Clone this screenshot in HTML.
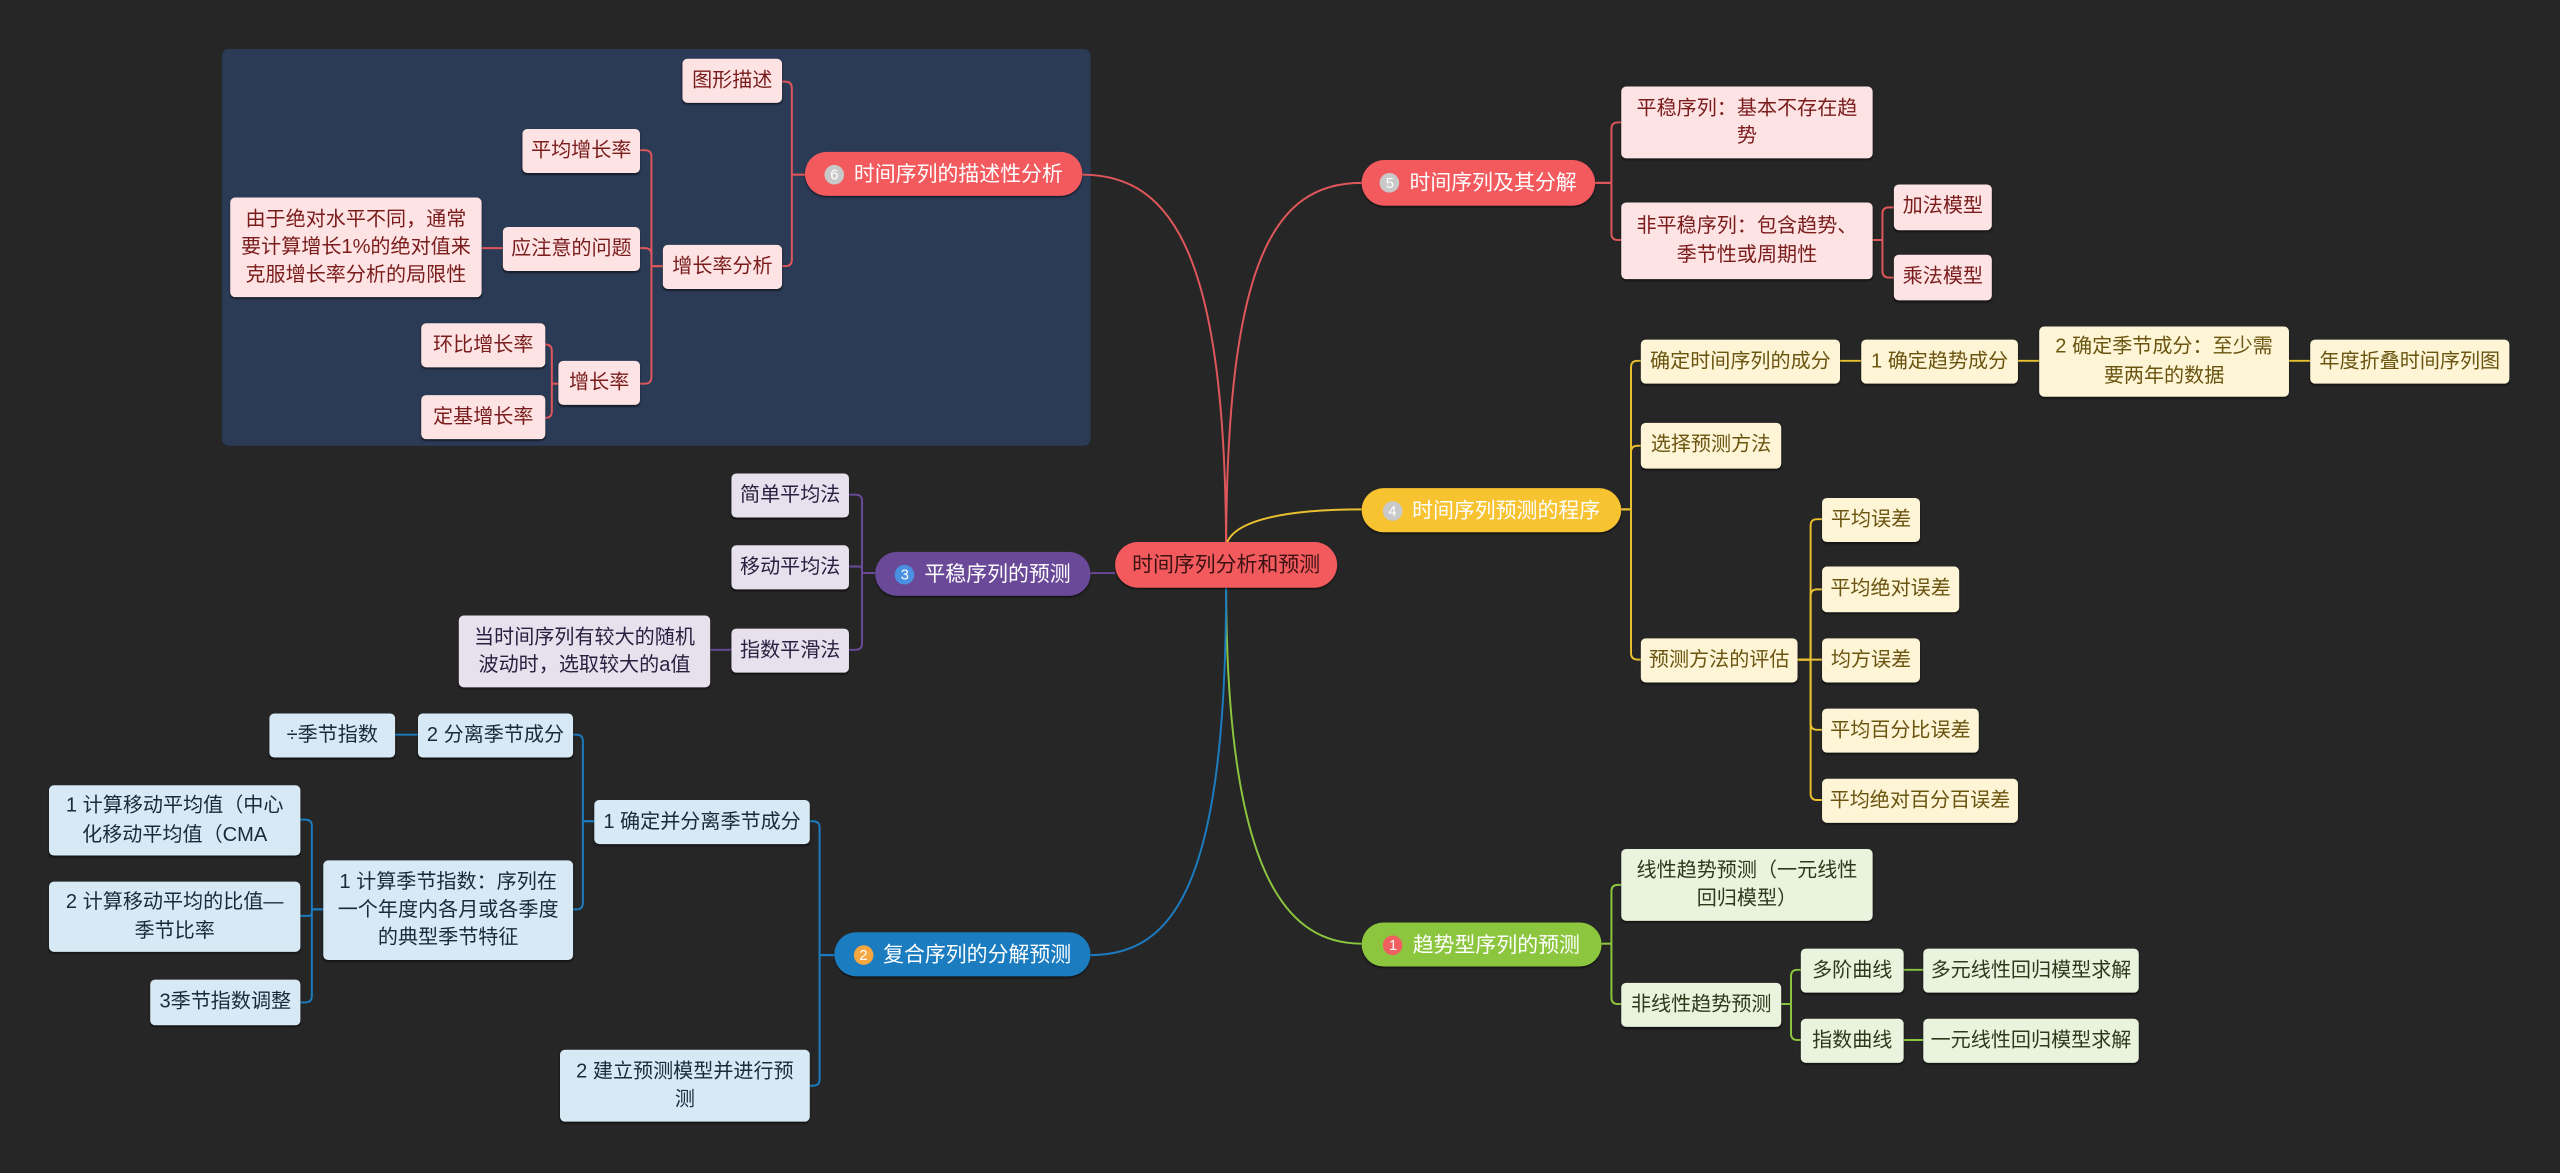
<!DOCTYPE html>
<html><head><meta charset="utf-8"><style>
html,body{margin:0;padding:0;background:#262626;}
#wrap{position:relative;width:1568px;height:718px;transform:scale(1.63265);transform-origin:0 0;background:#262626;font-family:"Liberation Sans","Noto Sans CJK SC",sans-serif;overflow:hidden}
.n{position:absolute;display:flex;align-items:center;justify-content:center;text-align:center;box-sizing:border-box;border-radius:3px;font-size:12.3px;line-height:1.4;padding:0 4px;box-shadow:0 1px 1px rgba(0,0,0,.5)}
.p{border-radius:14px;font-size:12.8px;color:#fff}
.b{display:inline-block;width:12px;height:12px;border-radius:50%;background:#ddd;color:#fff;font-size:9px;line-height:12px;margin-right:6px;text-align:center}
.r{background:#fde3e3;color:#7a1c1c}
.y{background:#fdf5d6;color:#6b5410}
.g{background:#eaf3dd;color:#2c3a1c}
.v{background:#e7e1ee;color:#2a2040}
.u{background:#d6e9f5;color:#1a2a3a}
svg{position:absolute;left:0;top:0}
</style></head><body><div id="wrap">
<div style="position:absolute;left:136px;top:30px;width:532px;height:243px;background:#2b3a55;border-radius:4px"></div>
<svg id="s" width="1568" height="718" fill="none" stroke-width="1.2"></svg>

<div class="n p" style="left:683px;top:332px;width:136px;height:28px;background:#f25a5e;color:#3b1111">时间序列分析和预测</div>

<div class="n p" style="left:493px;top:93px;width:170px;height:27px;background:#f25a5e"><span class="b" style="background:#c9c9c9">6</span>时间序列的描述性分析</div>
<div class="n r" style="left:418px;top:36px;width:61px;height:27px">图形描述</div>
<div class="n r" style="left:406px;top:150px;width:73px;height:27px">增长率分析</div>
<div class="n r" style="left:320px;top:79px;width:72px;height:27px">平均增长率</div>
<div class="n r" style="left:308px;top:139px;width:84px;height:27px">应注意的问题</div>
<div class="n r" style="left:141px;top:121px;width:154px;height:61px">由于绝对水平不同，通常要计算增长1%的绝对值来克服增长率分析的局限性</div>
<div class="n r" style="left:342px;top:221px;width:50px;height:27px">增长率</div>
<div class="n r" style="left:258px;top:198px;width:76px;height:27px">环比增长率</div>
<div class="n r" style="left:258px;top:242px;width:76px;height:27px">定基增长率</div>

<div class="n p" style="left:834px;top:98px;width:143px;height:28px;background:#f25a5e"><span class="b" style="background:#c9c9c9">5</span>时间序列及其分解</div>
<div class="n r" style="left:993px;top:53px;width:154px;height:44px">平稳序列：基本不存在趋势</div>
<div class="n r" style="left:993px;top:124px;width:154px;height:47px">非平稳序列：包含趋势、季节性或周期性</div>
<div class="n r" style="left:1160px;top:113px;width:60px;height:28px">加法模型</div>
<div class="n r" style="left:1160px;top:156px;width:60px;height:28px">乘法模型</div>

<div class="n p" style="left:834px;top:299px;width:159px;height:27px;background:#f7c331"><span class="b" style="background:#c9c9c9">4</span>时间序列预测的程序</div>
<div class="n y" style="left:1005px;top:208px;width:122px;height:27px">确定时间序列的成分</div>
<div class="n y" style="left:1140px;top:208px;width:96px;height:27px">1 确定趋势成分</div>
<div class="n y" style="left:1249px;top:200px;width:153px;height:43px">2 确定季节成分：至少需要两年的数据</div>
<div class="n y" style="left:1415px;top:208px;width:122px;height:27px">年度折叠时间序列图</div>
<div class="n y" style="left:1005px;top:259px;width:86px;height:28px">选择预测方法</div>
<div class="n y" style="left:1005px;top:391px;width:96px;height:27px">预测方法的评估</div>
<div class="n y" style="left:1116px;top:305px;width:60px;height:27px">平均误差</div>
<div class="n y" style="left:1116px;top:347px;width:84px;height:28px">平均绝对误差</div>
<div class="n y" style="left:1116px;top:391px;width:60px;height:27px">均方误差</div>
<div class="n y" style="left:1116px;top:434px;width:96px;height:27px">平均百分比误差</div>
<div class="n y" style="left:1116px;top:477px;width:120px;height:27px">平均绝对百分百误差</div>

<div class="n p" style="left:834px;top:565px;width:147px;height:27px;background:#8cc63f"><span class="b" style="background:#f06060">1</span>趋势型序列的预测</div>
<div class="n g" style="left:993px;top:520px;width:154px;height:44px">线性趋势预测（一元线性回归模型）</div>
<div class="n g" style="left:993px;top:602px;width:98px;height:27px">非线性趋势预测</div>
<div class="n g" style="left:1103px;top:581px;width:63px;height:27px">多阶曲线</div>
<div class="n g" style="left:1178px;top:581px;width:132px;height:27px">多元线性回归模型求解</div>
<div class="n g" style="left:1103px;top:624px;width:63px;height:27px">指数曲线</div>
<div class="n g" style="left:1178px;top:624px;width:132px;height:27px">一元线性回归模型求解</div>

<div class="n p" style="left:536px;top:338px;width:132px;height:27px;background:#6a4a98"><span class="b" style="background:#4a90e2">3</span>平稳序列的预测</div>
<div class="n v" style="left:448px;top:290px;width:72px;height:27px">简单平均法</div>
<div class="n v" style="left:448px;top:334px;width:72px;height:27px">移动平均法</div>
<div class="n v" style="left:448px;top:385px;width:72px;height:27px">指数平滑法</div>
<div class="n v" style="left:281px;top:377px;width:154px;height:44px">当时间序列有较大的随机波动时，选取较大的a值</div>

<div class="n p" style="left:511px;top:571px;width:157px;height:27px;background:#1b7cc0"><span class="b" style="background:#f5a742">2</span>复合序列的分解预测</div>
<div class="n u" style="left:364px;top:490px;width:132px;height:27px">1 确定并分离季节成分</div>
<div class="n u" style="left:343px;top:643px;width:153px;height:44px">2 建立预测模型并进行预测</div>
<div class="n u" style="left:256px;top:437px;width:95px;height:27px">2 分离季节成分</div>
<div class="n u" style="left:165px;top:437px;width:77px;height:27px">÷季节指数</div>
<div class="n u" style="left:198px;top:527px;width:153px;height:61px">1 计算季节指数：序列在一个年度内各月或各季度的典型季节特征</div>
<div class="n u" style="left:30px;top:481px;width:154px;height:43px;padding:0 9px">1 计算移动平均值（中心化移动平均值（CMA</div>
<div class="n u" style="left:30px;top:540px;width:154px;height:43px;padding:0 9px">2 计算移动平均的比值—季节比率</div>
<div class="n u" style="left:92px;top:600px;width:92px;height:28px">3季节指数调整</div>
</div>
<script>
var s=document.getElementById('s'),h='';
function P(d,c){h+='<path d="'+d+'" stroke="'+c+'"/>';}
function L(px,py,sx,kids,c){
 kids.forEach(function(k){var cx=k[0],cy=k[1];
  if(Math.abs(cy-py)<1){P('M'+px+','+py+'H'+cx,c);return;}
  var dx=cx>px?1:-1,dy=cy>py?1:-1,r=Math.min(4,Math.abs(cy-py)/2);
  P('M'+px+','+py+'H'+sx+'M'+sx+','+py+'V'+(cy-dy*r)+'Q'+sx+','+cy+' '+(sx+dx*r)+','+cy+'H'+cx,c);
 });}
var R='#e0575b',Y='#e8c030',G='#8cc63f',V='#6a4a98',B='#1b7cc0';
P('M751,340 C751,160 720,107 663,107',R);
P('M751,340 C751,160 780,112 834,112',R);
P('M751,334 C755,318 790,312 834,312',Y);
P('M668,351 H683',V);
P('M751,358 C751,540 790,578 834,578',G);
P('M751,358 C751,540 720,585 668,585',B);
L(493,107,485,[[479,50],[479,163]],R);
L(406,163,399,[[392,92],[392,152],[392,235]],R);
L(308,152,300,[[295,152]],R);
L(342,235,338,[[334,211],[334,256]],R);
L(977,112,987,[[993,75],[993,147]],R);
L(1147,147,1153,[[1160,127],[1160,170]],R);
L(993,312,999,[[1005,221],[1005,273],[1005,404]],Y);
L(1127,221,1133,[[1140,221]],Y);L(1236,221,1242,[[1249,221]],Y);L(1402,221,1408,[[1415,221]],Y);
L(1101,404,1109,[[1116,318],[1116,361],[1116,404],[1116,447],[1116,490]],Y);
L(981,578,987,[[993,542],[993,615]],G);
L(1091,615,1097,[[1103,594],[1103,637]],G);
L(1166,594,1172,[[1178,594]],G);L(1166,637,1172,[[1178,637]],G);
L(536,351,528,[[520,303],[520,347],[520,398]],V);
L(448,398,440,[[435,398]],V);
L(511,585,502,[[496,503],[496,665]],B);
L(364,503,357,[[351,450],[351,557]],B);
L(256,450,249,[[242,450]],B);
L(198,557,191,[[184,502],[184,561],[184,614]],B);
s.innerHTML=h;
</script>
</body></html>
